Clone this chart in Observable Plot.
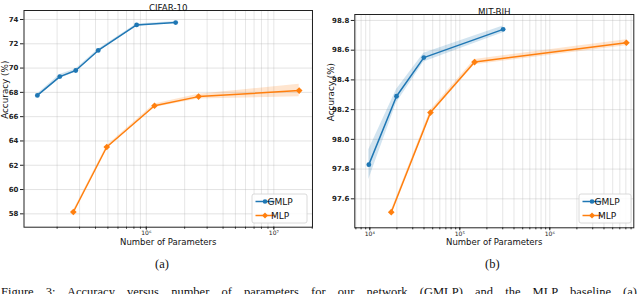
<!DOCTYPE html>
<html>
<head>
<meta charset="utf-8">
<script src="https://cdn.jsdelivr.net/npm/d3@7"></script>
<script src="https://cdn.jsdelivr.net/npm/@observablehq/plot@0.6"></script>
<style>
  html, body { margin: 0; padding: 0; background: #fff; }
  #page { position: relative; width: 640px; height: 294px; overflow: hidden; background: #fff; font-family: "DejaVu Sans", sans-serif; }
  .panel { position: absolute; top: 0; }
  .cap { position: absolute; font-family: "Liberation Serif", "Times New Roman", serif; font-size: 12.5px; color: #111; white-space: nowrap; }
  .fig { position: absolute; left: 1px; width: 636px; top: 285px; font-family: "Liberation Serif", "Times New Roman", serif; font-size: 12.5px; color: #111; white-space: nowrap; text-align: justify; text-align-last: justify; }
</style>
</head>
<body>
<div id="page">
  <div id="pa" class="panel" style="left:0px"></div>
  <div id="pb" class="panel" style="left:320px"></div>
  <div class="cap" style="left:155px; top:257px;">(a)</div>
  <div class="cap" style="left:485px; top:257px;">(b)</div>
  <div class="fig">Figure 3: Accuracy versus number of parameters for our network (GMLP) and the MLP baseline (a)</div>
</div>
<script>
// ---- data ----
const seriesNames = ["GMLP", "MLP"];
const seriesColors = ["#1f77b4", "#ff7f0e"];

const cifarGmlpParams = [1.4e5, 2.1e5, 2.8e5, 4.2e5, 8.4e5, 1.7e6];
const cifarGmlpAcc    = [67.75, 69.3, 69.8, 71.45, 73.55, 73.75];
const cifarGmlpErr    = [0.12, 0.17, 0.12, 0.1, 0.08, 0.08];
const cifarMlpParams  = [2.68e5, 4.9e5, 1.16e6, 2.57e6, 1.58e7];
const cifarMlpAcc     = [58.15, 63.5, 66.9, 67.65, 68.15];
const cifarMlpErr     = [0.1, 0.1, 0.15, 0.2, 0.52];
const cifarYTicks     = [58, 60, 62, 64, 66, 68, 70, 72, 74];
const cifarXTicks     = [1e6, 1e7];

const mitGmlpParams = [9.75e3, 1.98e4, 3.98e4, 3.03e5];
const mitGmlpAcc    = [97.83, 98.29, 98.55, 98.74];
const mitGmlpErr    = [0.1, 0.045, 0.03, 0.022];
const mitMlpParams  = [1.73e4, 4.72e4, 1.46e5, 7.1e6];
const mitMlpAcc     = [97.51, 98.18, 98.52, 98.65];
const mitMlpErr     = [0.01, 0.015, 0.018, 0.02];
const mitYTicks     = [97.6, 97.8, 98.0, 98.2, 98.4, 98.6, 98.8];
const mitXTicks     = [1e4, 1e5, 1e6];

// ---- helpers ----
const sup = {"0":"⁰","1":"¹","2":"²","3":"³","4":"⁴","5":"⁵","6":"⁶","7":"⁷","8":"⁸","9":"⁹","-":"⁻"};
const fmtPow = v => "10" + String(Math.round(Math.log10(v))).split("").map(c => sup[c]).join("");

function minorTicks(lo, hi) {
  const out = [];
  for (let e = Math.floor(Math.log10(lo)); e <= Math.ceil(Math.log10(hi)); e++) {
    for (let m = 1; m <= 9; m++) {
      const v = m * Math.pow(10, e);
      if (v >= lo && v <= hi) out.push(v);
    }
  }
  return out;
}

function rows(params, acc, err, name) {
  return params.map((p, i) => ({p, acc: acc[i], lo: acc[i] - err[i], hi: acc[i] + err[i], name}));
}

function panel(cfg) {
  const g = rows(cfg.gP, cfg.gA, cfg.gE, seriesNames[0]);
  const m = rows(cfg.mP, cfg.mA, cfg.mE, seriesNames[1]);
  const minors = minorTicks(cfg.xDomain[0], cfg.xDomain[1]);
  const plot = Plot.plot({
    width: 320,
    height: 250,
    marginLeft: cfg.ml, marginRight: cfg.mr, marginTop: cfg.mt, marginBottom: cfg.mb,
    style: {fontFamily: "DejaVu Sans, sans-serif", color: "#222", background: "#fff", overflow: "visible"},
    x: {type: "log", domain: cfg.xDomain},
    y: {domain: cfg.yDomain},
    marks: [
      Plot.gridX(minors, {stroke: "#b0b0b0", strokeOpacity: 0.4, strokeWidth: 0.8}),
      Plot.gridY(cfg.yTicks, {stroke: "#b0b0b0", strokeOpacity: 0.45, strokeWidth: 0.8}),
      Plot.axisY({ticks: cfg.yTicks, tickSize: 3.5, tickPadding: 2, fontSize: 7, fontWeight: 600, label: null, tickFormat: cfg.yFmt}),
      Plot.axisX({ticks: minors, tickSize: 2, tickFormat: () => "", label: null}),
      Plot.axisX({ticks: cfg.xTicks, tickSize: 3, tickPadding: 0.5, fontSize: 6, tickFormat: fmtPow, label: null}),
      Plot.areaY(g, {x: "p", y1: "lo", y2: "hi", fill: seriesColors[0], fillOpacity: 0.2, curve: "linear"}),
      Plot.areaY(m, {x: "p", y1: "lo", y2: "hi", fill: seriesColors[1], fillOpacity: 0.2, curve: "linear"}),
      Plot.line(g, {x: "p", y: "acc", stroke: seriesColors[0], strokeWidth: 1.5}),
      Plot.line(m, {x: "p", y: "acc", stroke: seriesColors[1], strokeWidth: 1.5}),
      Plot.dot(g, {x: "p", y: "acc", fill: seriesColors[0], r: 2.4, symbol: "circle"}),
      Plot.dot(m, {x: "p", y: "acc", fill: seriesColors[1], r: 3, symbol: "diamond2"}),
      Plot.frame({stroke: "#222", strokeWidth: 1}),
      Plot.text([cfg.title], {frameAnchor: "top", dy: -6, fontSize: 8.7, fill: "#111"}),
      Plot.text(["Number of Parameters"], {frameAnchor: "bottom", dy: 17.5, fontSize: 8.5, fill: "#111"}),
      Plot.text(["Accuracy (%)"], {frameAnchor: "left", dx: cfg.ylabDx, rotate: -90, fontSize: 8.8, fill: "#111"})
    ]
  });
  // legend
  const svg = d3.select(plot);
  const L = cfg.legend;
  const lg = svg.append("g");
  lg.append("rect").attr("x", L.x).attr("y", L.y).attr("width", L.w).attr("height", L.h)
    .attr("rx", 2).attr("fill", "#fff").attr("fill-opacity", 0.85).attr("stroke", "#d0d0d0").attr("stroke-width", 0.8);
  seriesNames.forEach((name, i) => {
    const yy = L.y + 7.5 + i * 14;
    lg.append("line").attr("x1", L.x + 3.5).attr("x2", L.x + 22.5).attr("y1", yy).attr("y2", yy)
      .attr("stroke", seriesColors[i]).attr("stroke-width", 1.5);
    const cx = L.x + 13;
    if (i === 0) {
      lg.append("circle").attr("cx", cx).attr("cy", yy).attr("r", 2.3).attr("fill", seriesColors[i]);
    } else {
      lg.append("path").attr("d", d3.symbol(d3.symbolSquare, 18)()).attr("transform", `translate(${cx},${yy}) rotate(45)`).attr("fill", seriesColors[i]);
    }
    lg.append("text").attr("x", L.x + 28).attr("y", yy).attr("dy", "0.35em")
      .attr("font-size", 9).attr("fill", "#111").text(name);
  });
  return plot;
}

document.getElementById("pa").appendChild(panel({
  title: "CIFAR-10",
  gP: cifarGmlpParams, gA: cifarGmlpAcc, gE: cifarGmlpErr,
  mP: cifarMlpParams, mA: cifarMlpAcc, mE: cifarMlpErr,
  xDomain: [1.1e5, 2.01e7], yDomain: [56.9, 74.74],
  yTicks: cifarYTicks, xTicks: cifarXTicks, yFmt: d3.format("d"),
  ml: 23.5, mr: 8, mt: 10, mb: 23.3, ylabDx: -18.5,
  legend: {x: 252, y: 194, w: 55, h: 29}
}));

document.getElementById("pb").appendChild(panel({
  title: "MIT-BIH",
  gP: mitGmlpParams, gA: mitGmlpAcc, gE: mitGmlpErr,
  mP: mitMlpParams, mA: mitMlpAcc, mE: mitMlpErr,
  xDomain: [6.81e3, 8.58e6], yDomain: [97.405, 98.84],
  yTicks: mitYTicks, xTicks: mitXTicks, yFmt: d3.format(".1f"),
  ml: 34.3, mr: 6.7, mt: 14, mb: 22.7, ylabDx: -24,
  legend: {x: 259, y: 194, w: 52, h: 29}
}));
</script>
</body>
</html>
